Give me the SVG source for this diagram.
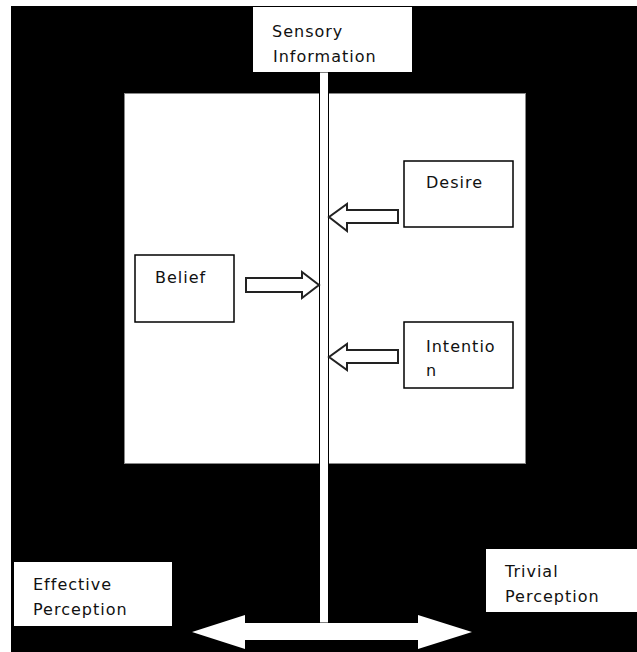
<svg xmlns="http://www.w3.org/2000/svg" width="637" height="652" viewBox="0 0 637 652">
<style>
.box{fill:#fff;stroke:#000;stroke-width:1.5}
.wbox{fill:#fff;stroke:none}
.t{font-family:"DejaVu Sans",sans-serif;font-size:16px;letter-spacing:1px;fill:#111}
.blk{fill:#fff;stroke:#222;stroke-width:2;stroke-linejoin:miter}
</style>
<rect x="0" y="0" width="637" height="652" fill="#fff"/>
<rect x="11" y="6" width="626" height="646" fill="#000"/>
<g id="panel"><rect x="124.5" y="93.5" width="401" height="370" fill="#fff" stroke="#888" stroke-width="1"/></g>
<g id="connectors">
<rect x="319.5" y="72" width="9" height="551" fill="#fff" stroke="#000" stroke-width="1"/>
<polygon points="192,632 245,615 245,623 418,623 418,615 472,632 418,649 418,640 245,640 245,649" fill="#fff"/>
<polygon class="blk" points="246,278 302,278 302,272 319,285 302,298 302,292 246,292"/>
<polygon class="blk" points="398,210 347,210 347,204 329,217 347,231 347,223 398,223"/>
<polygon class="blk" points="398,350 347,350 347,344 329,357 347,370 347,363 398,363"/>
</g>
<g id="sensory"><rect class="wbox" x="253" y="7" width="159" height="65"/><text class="t" x="272" y="37">Sensory</text><text class="t" x="273" y="62">Information</text></g>
<g id="belief"><rect class="box" x="135" y="255" width="99" height="67"/><text class="t" x="155" y="283">Belief</text></g>
<g id="desire"><rect class="box" x="404" y="161" width="109" height="66"/><text class="t" x="426" y="188">Desire</text></g>
<g id="intention"><rect class="box" x="404" y="322" width="109" height="66"/><text class="t" x="426" y="352">Intentio</text><text class="t" x="426" y="376">n</text></g>
<g id="effective"><rect class="wbox" x="14" y="562" width="158" height="64"/><text class="t" x="33" y="590">Effective</text><text class="t" x="33" y="615">Perception</text></g>
<g id="trivial"><rect class="wbox" x="486" y="549" width="151" height="63"/><text class="t" x="505" y="577">Trivial</text><text class="t" x="505" y="602">Perception</text></g>
</svg>
